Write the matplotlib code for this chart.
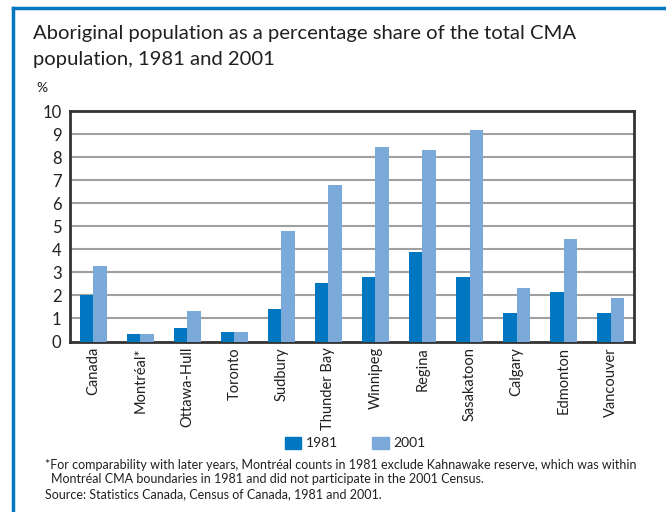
import matplotlib
matplotlib.use("Agg")
import matplotlib.pyplot as plt
import numpy as np
from matplotlib.patches import Rectangle
from matplotlib.lines import Line2D

plt.rcParams['font.family'] = ['Lato', 'DejaVu Sans']

categories = ["Canada", "Montréal*", "Ottawa-Hull", "Toronto", "Sudbury", "Thunder Bay",
              "Winnipeg", "Regina", "Sasakatoon", "Calgary", "Edmonton", "Vancouver"]
v1981 = [2.03, 0.33, 0.59, 0.42, 1.42, 2.55, 2.81, 3.90, 2.81, 1.25, 2.16, 1.25]
v2001 = [3.29, 0.33, 1.33, 0.42, 4.81, 6.81, 8.46, 8.33, 9.16, 2.33, 4.46, 1.90]
yticks = list(range(0, 11))
series_names = ["1981", "2001"]

c1981 = "#0077c0"
c2001 = "#7aa9da"
txt = "#231f20"

fig = plt.figure(figsize=(6.66, 5.12), dpi=100)
ax = fig.add_axes([0.105, 0.333, 0.847, 0.45])

x = np.arange(len(categories))
w = 0.29
ax.bar(x - w/2, v1981, width=w, color=c1981, zorder=3)
ax.bar(x + w/2, v2001, width=w, color=c2001, zorder=3)

ax.set_xlim(-0.5, len(categories) - 0.5)
ax.set_ylim(0, 10)
ax.set_yticks(yticks)
ax.set_yticklabels([str(t) for t in yticks], fontsize=12, color=txt)
ax.set_xticks(x)
ax.set_xticklabels(categories, rotation=90, fontsize=10.5, color=txt)
ax.tick_params(axis='both', length=0, pad=4)
ax.tick_params(axis='y', pad=6)
for t in yticks[1:-1]:
    ax.axhline(t, color="#a0a0a0", lw=1.5, zorder=1)
for s in ax.spines.values():
    s.set_color("#333333")
    s.set_linewidth(2)

fig.text(33/666, 1 - 33/512, "Aboriginal population as a percentage share of the total CMA",
         fontsize=14.6, color=txt, va='center', ha='left')
fig.text(33/666, 1 - 60/512, "population, 1981 and 2001",
         fontsize=14.6, color=txt, va='center', ha='left')
fig.text(42/666, 1 - 88/512, "%", fontsize=10, color=txt, va='center', ha='center')

# legend
handles = [Rectangle((0, 0), 1, 1, color=c1981), Rectangle((0, 0), 1, 1, color=c2001)]
fig.legend(handles, series_names, loc='center', bbox_to_anchor=(355/666, 1 - 443/512),
           ncol=2, frameon=False, fontsize=10, handlelength=1.2, handleheight=1.0,
           columnspacing=2.5, handletextpad=0.3, labelcolor=txt)

foot = 9
fig.text(45/666, 1 - 465/512,
         "*For comparability with later years, Montréal counts in 1981 exclude Kahnawake reserve, which was within",
         fontsize=foot, color=txt, va='center', ha='left')
fig.text(51/666, 1 - 479/512,
         "Montréal CMA boundaries in 1981 and did not participate in the 2001 Census.",
         fontsize=foot, color=txt, va='center', ha='left')
fig.text(45/666, 1 - 494/512,
         "Source: Statistics Canada, Census of Canada, 1981 and 2001.",
         fontsize=foot, color=txt, va='center', ha='left')

# blue frame (top and left)
fig.add_artist(Line2D([13/666, 1], [1 - 8/512, 1 - 8/512], color=c1981, lw=2.5,
                      transform=fig.transFigure))
fig.add_artist(Line2D([13/666, 13/666], [0, 1 - 8/512], color=c1981, lw=2.5,
                      transform=fig.transFigure))

fig.savefig("out.png", dpi=100)
